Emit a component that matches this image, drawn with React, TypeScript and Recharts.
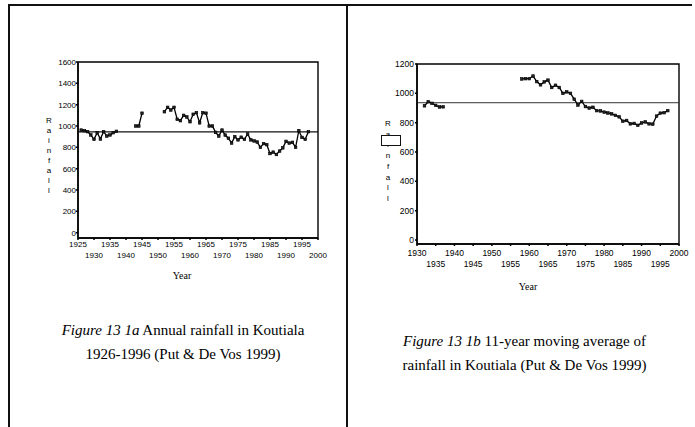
import React from 'react';
import { LineChart, Line, XAxis, YAxis, ReferenceLine, ReferenceArea } from 'recharts';

// Annual rainfall in Koutiala (mm); gaps = missing years
const annualSeg1Start = 1926;
const annualSeg1 = [962, 956, 947, 916, 875, 937, 878, 947, 906, 916, 937, 950];
const annualSeg2Start = 1943;
const annualSeg2 = [1000, 1000, 1120];
const annualSeg3Start = 1952;
const annualSeg3 = [
  1134, 1175, 1150, 1175, 1063, 1050, 1100, 1085, 1040, 1110, 1125, 1030, 1125, 1120,
  1000, 1000, 940, 906, 962, 915, 885, 840, 900, 870, 895, 875, 925, 870, 860, 850,
  800, 835, 825, 742, 755, 733, 765, 795, 856, 840, 847, 800, 956, 893, 875, 947,
];
const annualMean = 945;

// 11-year moving average
const movingSeg1Start = 1932;
const movingSeg1 = [915, 943, 932, 918, 907, 908];
const movingSeg2Start = 1958;
const movingSeg2 = [
  1098, 1100, 1100, 1118, 1080, 1058, 1078, 1090, 1040, 1055, 1040, 1000, 1010, 1000,
  960, 920, 945, 910, 900, 905, 882, 880, 872, 866, 860, 850, 840, 810, 815, 792,
  795, 782, 798, 805, 792, 790, 845, 865, 868, 882,
];
const movingMean = 936;

const leftYearTicks = [1925, 1930, 1935, 1940, 1945, 1950, 1955, 1960, 1965, 1970, 1975, 1980, 1985, 1990, 1995, 2000];
const leftUpperRow = [1925, 1935, 1945, 1955, 1965, 1975, 1985, 1995];
const leftRainTicks = [0, 200, 400, 600, 800, 1000, 1200, 1400, 1600];

const rightYearTicks = [1930, 1935, 1940, 1945, 1950, 1955, 1960, 1965, 1970, 1975, 1980, 1985, 1990, 1995, 2000];
const rightUpperRow = [1930, 1940, 1950, 1960, 1970, 1980, 1990, 2000];
const rightRainTicks = [0, 200, 400, 600, 800, 1000, 1200];

const yLetters = ['R', 'a', 'i', 'n', 'f', 'a', 'l', 'l'];

type Seg = { start: number; values: number[] };

// join segments, a null point between them breaks the line
function buildSeries(segs: Seg[]) {
  const out: { year: number; value: number | null }[] = [];
  segs.forEach((s, i) => {
    if (i > 0) out.push({ year: s.start - 1, value: null });
    s.values.forEach((v, j) => out.push({ year: s.start + j, value: v }));
  });
  return out;
}

const annualData = buildSeries([
  { start: annualSeg1Start, values: annualSeg1 },
  { start: annualSeg2Start, values: annualSeg2 },
  { start: annualSeg3Start, values: annualSeg3 },
]);
const movingData = buildSeries([
  { start: movingSeg1Start, values: movingSeg1 },
  { start: movingSeg2Start, values: movingSeg2 },
]);

const tickFont = '"Liberation Sans", Arial, sans-serif';

function YearTick(props: any) {
  const { x, y, payload, upper, offs, size } = props;
  const up = upper.includes(payload.value);
  return (
    <text x={x} y={y + (up ? offs[0] : offs[1])} textAnchor="middle" fontSize={size}
      fontFamily={tickFont} fill="#000">
      {payload.value}
    </text>
  );
}

function SquareDot(props: any) {
  const { cx, cy, index } = props;
  if (cx == null || cy == null || props.value == null) return <g key={'d' + index} />;
  return <rect key={'d' + index} x={cx - 1.3} y={cy - 1.3} width={2.6} height={2.6}
    fill="#222" stroke="#000" strokeWidth={0.6} />;
}

const line = (y: number, x: number, w: number, h: number) => (
  <div style={{ position: 'absolute', top: y, left: x, width: w, height: h, background: '#111' }} />
);

export default function App() {
  return (
    <div style={{ position: 'absolute', left: 0, top: 0, width: 695, height: 427, background: '#fff',
      overflow: 'hidden', fontFamily: '"Liberation Serif", "Times New Roman", serif', color: '#000' }}>
      {/* page frame of the scanned table */}
      {line(4, 8, 684, 2)}
      {line(4, 8, 2, 423)}
      {line(4, 346, 2, 423)}

      {/* left: annual rainfall */}
      <div style={{ position: 'absolute', left: 20, top: 50 }}>
        <LineChart width={310} height={250} data={annualData}
          margin={{ top: 12, right: 12, bottom: 0, left: 8 }}>
          <XAxis dataKey="year" type="number" domain={[1925, 2000]} ticks={leftYearTicks}
            allowDataOverflow height={62} tickSize={2} tickMargin={0} stroke="#000" strokeWidth={1.5}
            interval={0}
            tick={(p: any) => <YearTick {...p} upper={leftUpperRow} offs={[7, 18]} size={8} />} />
          <YAxis type="number" domain={[-50, 1600]} ticks={leftRainTicks} allowDataOverflow width={50}
            tickSize={2} tickMargin={0} stroke="#000" strokeWidth={1.5} interval={0}
            tick={{ fontSize: 8, fill: '#000', fontFamily: tickFont }} />
          <ReferenceArea x1={1925} x2={2000} y1={-50} y2={1600} fill="none" stroke="#000"
            strokeWidth={1.4} fillOpacity={0} />
          <ReferenceLine y={annualMean} stroke="#111" strokeWidth={1.2} />
          <Line type="linear" dataKey="value" stroke="#000" strokeWidth={1.3} dot={SquareDot}
            activeDot={false} connectNulls={false} isAnimationActive={false} />
        </LineChart>
      </div>
      <div style={{ position: 'absolute', left: 44, top: 116, width: 10, textAlign: 'center',
        fontFamily: tickFont, fontSize: 8, lineHeight: '10px', color: '#000' }}>
        {yLetters.map((c, i) => <div key={i}>{c}</div>)}
      </div>
      <div style={{ position: 'absolute', left: 160, top: 270, width: 44, textAlign: 'center', fontSize: 10 }}>
        Year
      </div>

      {/* right: 11-year moving average */}
      <div style={{ position: 'absolute', left: 360, top: 50 }}>
        <LineChart width={330} height={260} data={movingData}
          margin={{ top: 14, right: 11, bottom: 0, left: 7 }}>
          <XAxis dataKey="year" type="number" domain={[1930, 2000]} ticks={rightYearTicks}
            allowDataOverflow height={66} tickSize={2} tickMargin={0} stroke="#000" strokeWidth={1.5}
            interval={0}
            tick={(p: any) => <YearTick {...p} upper={rightUpperRow} offs={[10, 21]} size={8.5} />} />
          <YAxis type="number" domain={[-27, 1200]} ticks={rightRainTicks} allowDataOverflow width={50}
            tickSize={2} tickMargin={1} stroke="#000" strokeWidth={1.5} interval={0}
            tick={{ fontSize: 8.5, fill: '#000', fontFamily: tickFont }} />
          <ReferenceArea x1={1930} x2={2000} y1={-27} y2={1200} fill="none" stroke="#000"
            strokeWidth={1.4} fillOpacity={0} />
          <ReferenceLine y={movingMean} stroke="#333" strokeWidth={1} />
          <Line type="linear" dataKey="value" stroke="#000" strokeWidth={1.3} dot={SquareDot}
            activeDot={false} connectNulls={false} isAnimationActive={false} />
        </LineChart>
      </div>
      <div style={{ position: 'absolute', left: 383, top: 119, width: 10, textAlign: 'center',
        fontFamily: tickFont, fontSize: 8, lineHeight: '10.7px', color: '#000' }}>
        {yLetters.map((c, i) => <div key={i}>{c}</div>)}
      </div>
      <div style={{ position: 'absolute', left: 381, top: 135, width: 18, height: 9,
        border: '1.5px solid #111', background: '#fff' }} />
      <div style={{ position: 'absolute', left: 506, top: 281, width: 44, textAlign: 'center', fontSize: 10 }}>
        Year
      </div>

      {/* captions */}
      <div style={{ position: 'absolute', left: 20, top: 318, width: 326, textAlign: 'center',
        fontSize: 15, lineHeight: '24px' }}>
        <div><i>Figure 13 1a</i> Annual rainfall in Koutiala</div>
        <div>1926-1996 (Put &amp; De Vos 1999)</div>
      </div>
      <div style={{ position: 'absolute', left: 352, top: 329, width: 345, textAlign: 'center',
        fontSize: 15, lineHeight: '24px' }}>
        <div><i>Figure 13 1b</i> 11-year moving average of</div>
        <div>rainfall in Koutiala (Put &amp; De Vos 1999)</div>
      </div>
    </div>
  );
}
